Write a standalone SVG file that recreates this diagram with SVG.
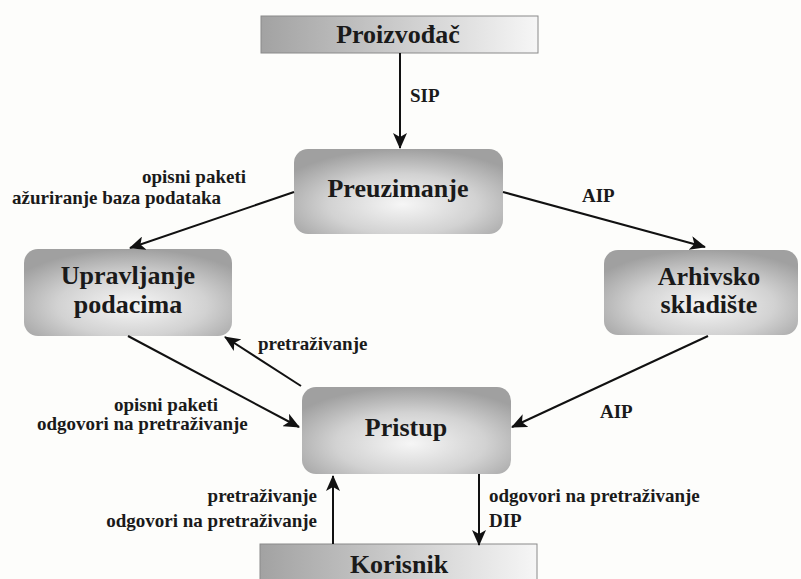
<svg xmlns="http://www.w3.org/2000/svg" width="801" height="579" viewBox="0 0 801 579">
<style>
.t{font-family:"Liberation Serif","Times New Roman",serif;font-weight:bold;fill:#1a1a1a}
.n{font-size:26px;text-anchor:middle}
.l{font-size:19px}
.e{text-anchor:end}
.c{stroke:#111;stroke-width:2;fill:none;marker-end:url(#ah)}
.rb{fill:url(#rg);stroke:none}
.sq{fill:url(#lg);stroke:#8a8a8a;stroke-width:1}
</style>
<defs>
<marker id="ah" markerUnits="userSpaceOnUse" markerWidth="16" markerHeight="14" refX="15" refY="7" orient="auto">
<path d="M0,0 L16,7 L0,14 L4,7 Z" fill="#111"/>
</marker>
<radialGradient id="rg" cx="0.52" cy="0.65" r="0.65">
<stop offset="0" stop-color="#f6f6f6"/>
<stop offset="0.55" stop-color="#d2d2d2"/>
<stop offset="1" stop-color="#a0a0a0"/>
</radialGradient>
<linearGradient id="lg" x1="0" y1="0" x2="1" y2="0">
<stop offset="0" stop-color="#a2a2a2"/>
<stop offset="1" stop-color="#f6f6f6"/>
</linearGradient>
</defs>
<rect width="801" height="579" fill="#fdfdfb"/>
<g id="proizvodac">
<rect class="sq" x="261" y="16" width="277" height="37"/>
<text class="t n" x="398" y="43">Proizvođač</text>
</g>
<g id="preuzimanje">
<rect class="rb" x="294" y="149" width="209" height="85" rx="14"/>
<text class="t n" x="398" y="197">Preuzimanje</text>
</g>
<g id="upravljanje">
<rect class="rb" x="24" y="249" width="208" height="87" rx="14"/>
<text class="t n" x="128" y="284">Upravljanje</text>
<text class="t n" x="128" y="313">podacima</text>
</g>
<g id="arhivsko">
<rect class="rb" x="604" y="250" width="194" height="85" rx="14"/>
<text class="t n" x="709" y="285">Arhivsko</text>
<text class="t n" x="709" y="313">skladište</text>
</g>
<g id="pristup">
<rect class="rb" x="302" y="387" width="209" height="87" rx="14"/>
<text class="t n" x="406" y="436">Pristup</text>
</g>
<g id="korisnik">
<rect class="sq" x="260" y="544" width="277" height="40"/>
<text class="t n" x="399" y="573">Korisnik</text>
</g>
<g id="connectors">
<line class="c" x1="400" y1="53" x2="400" y2="148"/>
<line class="c" x1="294" y1="192" x2="130" y2="248"/>
<line class="c" x1="503" y1="192" x2="705" y2="247"/>
<line class="c" x1="128" y1="336" x2="299" y2="427"/>
<line class="c" x1="301" y1="386" x2="225" y2="337"/>
<line class="c" x1="708" y1="336" x2="512" y2="427"/>
<line class="c" x1="333" y1="544" x2="333" y2="476"/>
<line class="c" x1="479" y1="474" x2="479" y2="545"/>
</g>
<g id="labels">
<text class="t l" x="410" y="102">SIP</text>
<text class="t l" x="142" y="183">opisni paketi</text>
<text class="t l" x="12" y="204">ažuriranje baza podataka</text>
<text class="t l" x="582" y="202">AIP</text>
<text class="t l" x="258" y="350">pretraživanje</text>
<text class="t l" x="114" y="411">opisni paketi</text>
<text class="t l" x="37" y="430">odgovori na pretraživanje</text>
<text class="t l" x="600" y="418">AIP</text>
<text class="t l e" x="317" y="502">pretraživanje</text>
<text class="t l e" x="317" y="527">odgovori na pretraživanje</text>
<text class="t l" x="489" y="502">odgovori na pretraživanje</text>
<text class="t l" x="489" y="527">DIP</text>
</g>
</svg>
